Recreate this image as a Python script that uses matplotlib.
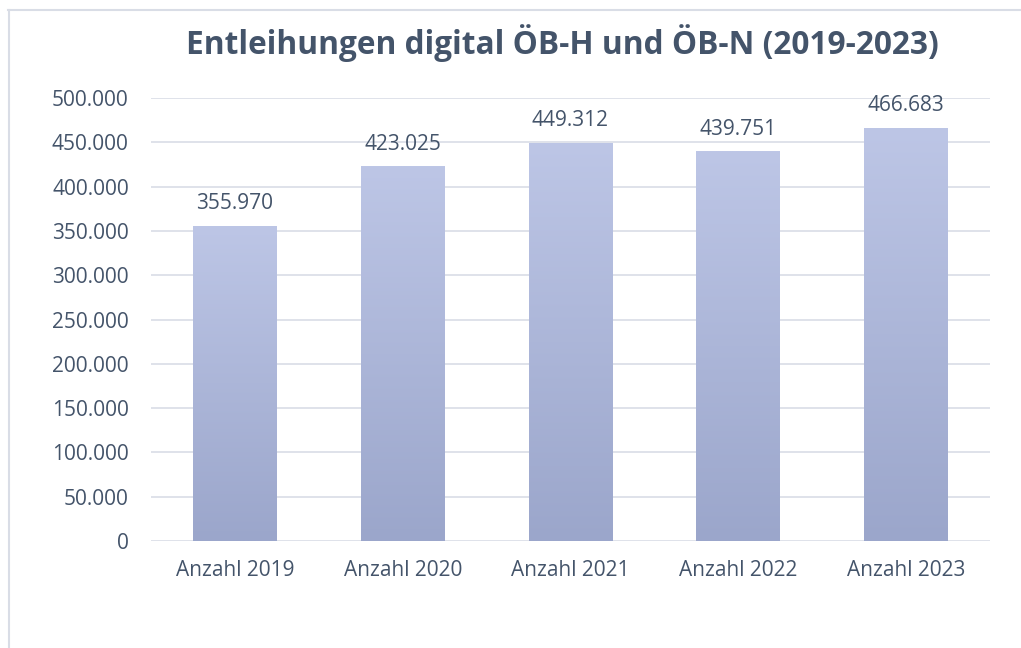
import numpy as np
import matplotlib.pyplot as plt
from matplotlib.lines import Line2D

# data
categories = ["Anzahl 2019", "Anzahl 2020", "Anzahl 2021", "Anzahl 2022", "Anzahl 2023"]
values = [355970, 423025, 449312, 439751, 466683]
y_ticks = [0, 50000, 100000, 150000, 200000, 250000, 300000, 350000, 400000, 450000, 500000]

text_col = "#44546A"
grid_col = "#D9DDE6"
top_col = np.array([0xBD, 0xC6, 0xE6]) / 255
bot_col = np.array([0x9B, 0xA6, 0xCB]) / 255

plt.rcParams['font.family'] = ['Open Sans', 'DejaVu Sans']


def fmt(v):
    return f"{v:,.0f}".replace(",", ".")


fig = plt.figure(figsize=(10.21, 6.48), dpi=100)
ax = fig.add_axes([151 / 1021, 1 - 541 / 648, (990 - 151) / 1021, (541 - 98) / 648])

x = np.arange(len(categories))
bars = ax.bar(x, values, width=0.5, color="none", zorder=2)

# vertical gradient fill, clipped to each bar
grad = np.linspace(0, 1, 256)[:, None, None]
img = bot_col * (1 - grad) + top_col * grad
for b in bars:
    x0, w, h = b.get_x(), b.get_width(), b.get_height()
    im = ax.imshow(img, extent=[x0, x0 + w, 0, h], origin="lower",
                   aspect="auto", zorder=2)
    im.set_clip_path(b)
    ax.text(x0 + w / 2, h + 13000, fmt(h), ha="center", va="bottom",
            fontsize=15, color=text_col)

ax.set_xlim(-0.5, len(categories) - 0.5)
ax.set_ylim(0, 500000)
ax.set_yticks(y_ticks)
ax.set_yticklabels([fmt(t) for t in y_ticks])
ax.set_xticks(x)
ax.set_xticklabels(categories)
ax.tick_params(axis="both", length=0, labelsize=15, labelcolor=text_col)
ax.tick_params(axis="y", pad=16)
ax.tick_params(axis="x", pad=14)
ax.grid(axis="y", color=grid_col, linewidth=1.2, zorder=0)
ax.set_axisbelow(True)
for s in ax.spines.values():
    s.set_visible(False)

fig.text(0.551, 1 - 43 / 648, "Entleihungen digital ÖB-H und ÖB-N (2019-2023)",
         ha="center", va="center", fontsize=22.8, fontweight="bold", color=text_col)

# chart frame (top and left edges visible)
fig.add_artist(Line2D([8 / 1021, 1], [1 - 10 / 648] * 2, color="#D9DDE6", lw=1.5,
                      transform=fig.transFigure))
fig.add_artist(Line2D([9 / 1021] * 2, [0, 1 - 10 / 648], color="#D9DDE6", lw=1.5,
                      transform=fig.transFigure))

fig.savefig("out.png", dpi=100)
